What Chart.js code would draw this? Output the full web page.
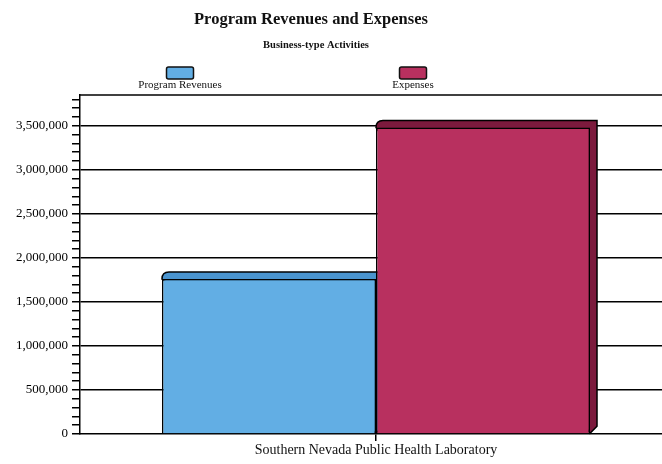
<!DOCTYPE html>
<html>
<head>
<meta charset="utf-8">
<script src="https://cdn.jsdelivr.net/npm/chart.js@4/dist/chart.umd.min.js"></script>
<style>
  html, body { margin: 0; padding: 0; background: #fff; overflow: hidden; }
  #wrap { position: relative; width: 690px; height: 464px; }
</style>
</head>
<body>
<div id="wrap"><canvas id="c" width="690" height="464"></canvas></div>
<script>
// ---- data ----
const titleText = "Program Revenues and Expenses";
const subtitleText = "Business-type Activities";
const categories = ["Southern Nevada Public Health Laboratory"];
const seriesNames = ["Program Revenues", "Expenses"];
const programRevenues = [1760000];
const expenses = [3480000];
const yMin = 0;
const yMax = 3850000;
const yMinorStep = 100000;
const yMajorStep = 500000;

// ---- styles ----
const fillColors = ["#62aee4", "#b8305f"];
const depthColors = ["#4a94cf", "#7c1a3d"];
const serif = "'Liberation Serif', 'Times New Roman', serif";

const isMajor = v => Math.abs(v / yMajorStep - Math.round(v / yMajorStep)) < 1e-6;

const depthPlugin = {
  id: 'depth',
  beforeDatasetsDraw(chart) {
    const ctx = chart.ctx;
    const d = 7;
    chart.data.datasets.forEach((ds, i) => {
      const meta = chart.getDatasetMeta(i);
      meta.data.forEach(el => {
        const left = el.x - el.width / 2;
        const right = el.x + el.width / 2;
        const top = el.y, base = el.base;
        ctx.save();
        ctx.beginPath();
        ctx.moveTo(left, top);
        ctx.quadraticCurveTo(left, top - d, left + d, top - d);
        ctx.lineTo(right + d, top - d);
        ctx.lineTo(right + d, base - d);
        ctx.lineTo(right, base);
        ctx.closePath();
        ctx.fillStyle = depthColors[i];
        ctx.fill();
        ctx.lineWidth = 1.5;
        ctx.strokeStyle = '#000';
        ctx.stroke();
        ctx.restore();
      });
    });
  }
};

const decorPlugin = {
  id: 'decor',
  afterDraw(chart) {
    const ctx = chart.ctx;
    const ca = chart.chartArea;
    ctx.save();
    // top border of plot
    ctx.strokeStyle = '#000';
    ctx.lineWidth = 1.5;
    ctx.beginPath();
    ctx.moveTo(ca.left, ca.top);
    ctx.lineTo(chart.width, ca.top);
    ctx.stroke();
    // title and subtitle
    ctx.fillStyle = '#111';
    ctx.textAlign = 'center';
    ctx.textBaseline = 'middle';
    ctx.font = "bold 16.5px " + serif;
    ctx.fillText(titleText, 311, 20);
    ctx.font = "bold 10.5px " + serif;
    ctx.fillText(subtitleText, 316, 45);
    // legend: box above label
    const centers = [180, 413];
    chart.data.datasets.forEach((ds, i) => {
      const cx = centers[i];
      const bw = 27, bh = 12;
      ctx.beginPath();
      if (ctx.roundRect) ctx.roundRect(cx - bw / 2, 67, bw, bh, 2); else ctx.rect(cx - bw / 2, 67, bw, bh);
      ctx.fillStyle = ds.backgroundColor;
      ctx.fill();
      ctx.lineWidth = 1.5;
      ctx.strokeStyle = '#111';
      ctx.stroke();
      ctx.fillStyle = '#111';
      ctx.font = "11px " + serif;
      ctx.fillText(ds.label, cx, 85);
    });
    ctx.restore();
  }
};

new Chart(document.getElementById('c'), {
  type: 'bar',
  data: {
    labels: categories,
    datasets: [
      { label: seriesNames[0], data: programRevenues, backgroundColor: fillColors[0],
        borderColor: '#000', borderWidth: 1.5, borderSkipped: 'bottom' },
      { label: seriesNames[1], data: expenses, backgroundColor: fillColors[1],
        borderColor: '#000', borderWidth: 1.5, borderSkipped: 'bottom' }
    ]
  },
  options: {
    responsive: false,
    animation: false,
    events: [],
    layout: { padding: { top: 95, left: 0, right: 18, bottom: 0 } },
    datasets: { bar: { categoryPercentage: 0.723, barPercentage: 1.0 } },
    plugins: { legend: { display: false }, title: { display: false }, tooltip: { enabled: false } },
    scales: {
      x: {
        afterFit(s) { s.height = 30; },
        grid: { offset: false, drawOnChartArea: false, color: '#000', tickLength: 7, lineWidth: 1.5 },
        border: { color: '#000', width: 1.5 },
        ticks: { color: '#111', font: { family: serif, size: 14 }, padding: 1 }
      },
      y: {
        min: yMin, max: yMax,
        afterFit(s) { s.width = 80; },
        afterBuildTicks(s) {
          const t = [];
          for (let k = 0; yMin + k * yMinorStep <= yMax; k++) t.push({ value: yMin + k * yMinorStep });
          s.ticks = t;
        },
        border: { color: '#000', width: 1.5 },
        grid: {
          color: c => (c.tick && c.tick.value > 0 && isMajor(c.tick.value)) ? '#000' : 'rgba(0,0,0,0)',
          tickColor: '#000',
          lineWidth: 1.5,
          tickLength: 8
        },
        ticks: {
          autoSkip: false,
          padding: 4,
          color: '#000',
          font: { family: serif, size: 13 },
          callback: v => isMajor(v) ? Math.round(v).toLocaleString('en-US') : ''
        }
      }
    }
  },
  plugins: [depthPlugin, decorPlugin]
});
</script>
</body>
</html>
